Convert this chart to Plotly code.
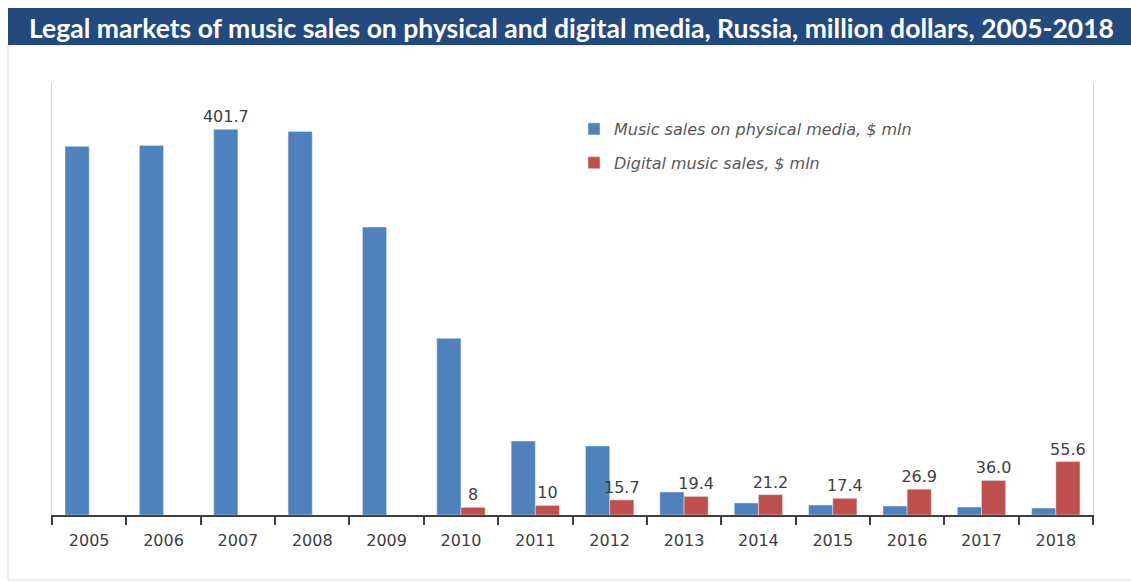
import plotly.graph_objects as go

years = ["2005", "2006", "2007", "2008", "2009", "2010", "2011", "2012",
         "2013", "2014", "2015", "2016", "2017", "2018"]
physical = [384, 385, 401.7, 399.5, 300, 184, 77, 72, 24, 12.5, 10.4, 9.4, 8.3, 7.3]
digital = [None, None, None, None, None, 8, 10, 15.7, 19.4, 21.2, 17.4, 26.9, 36.0, 55.6]
physical_labels = ["", "", "401.7", "", "", "", "", "", "", "", "", "", "", ""]
digital_labels = ["", "", "", "", "", "8", "10", "15.7", "19.4", "21.2", "17.4", "26.9", "36.0", "55.6"]

W, H = 1131, 583
L, R, T, B = 52, 1093, 83, 515


def px_x(px):
    return (px - L) / (R - L)


def px_y(py):
    return (B - py) / (B - T)


fig = go.Figure()
fig.add_trace(go.Bar(
    x=years, y=physical, name="Music sales on physical media, $ mln",
    marker_color="#4F81BD", text=physical_labels, textposition="outside",
    constraintext="none", cliponaxis=False, legendgroup="a",
    textfont=dict(family="DejaVu Sans", size=16, color="#404040"),
))
fig.add_trace(go.Bar(
    x=years, y=digital, name="Digital music sales, $ mln",
    marker_color="#C0504D", text=digital_labels, textposition="outside",
    constraintext="none", cliponaxis=False, legendgroup="b",
    textfont=dict(family="DejaVu Sans", size=16, color="#404040"),
))

fig.update_layout(
    width=W, height=H,
    margin=dict(l=L, r=W - R, t=T, b=H - B, pad=0),
    paper_bgcolor="white", plot_bgcolor="white",
    barmode="group", bargap=0.35, bargroupgap=0,
    showlegend=True,
    legend=dict(x=px_x(574), y=px_y(112), xanchor="left", yanchor="top",
                bgcolor="rgba(0,0,0,0)", tracegroupgap=10, traceorder="grouped",
                font=dict(family="DejaVu Sans", size=16, color="#595959", style="italic")),
    xaxis=dict(showline=True, linecolor="#404040", linewidth=1.5,
               ticks="outside", tickson="boundaries", ticklen=8, tickcolor="#404040",
               tickwidth=1.5, showgrid=False, ticklabelstandoff=10,
               tickfont=dict(family="DejaVu Sans", size=16, color="#404040")),
    yaxis=dict(range=[0, 450], showline=True, linecolor="#d9d9d9", linewidth=1,
               mirror=True, showticklabels=False, ticks="", showgrid=False,
               zeroline=False),
    shapes=[
        dict(type="rect", xref="paper", yref="paper",
             x0=px_x(8), x1=px_x(1140), y0=px_y(580), y1=px_y(45),
             line=dict(color="#d9d9d9", width=1), fillcolor="rgba(0,0,0,0)", layer="below"),
        dict(type="rect", xref="paper", yref="paper",
             x0=px_x(8), x1=px_x(1140), y0=px_y(45), y1=px_y(8),
             line=dict(width=0), fillcolor="#234a7f", layer="above"),
    ],
    annotations=[
        dict(text="<b>Legal markets of music sales on physical and digital media, Russia, million dollars, 2005-2018</b>",
             xref="paper", yref="paper", x=px_x(571), y=px_y(28),
             xanchor="center", yanchor="middle", showarrow=False,
             font=dict(family="Lato", size=26.5, color="white")),
    ],
)

fig.write_html("out.html")
